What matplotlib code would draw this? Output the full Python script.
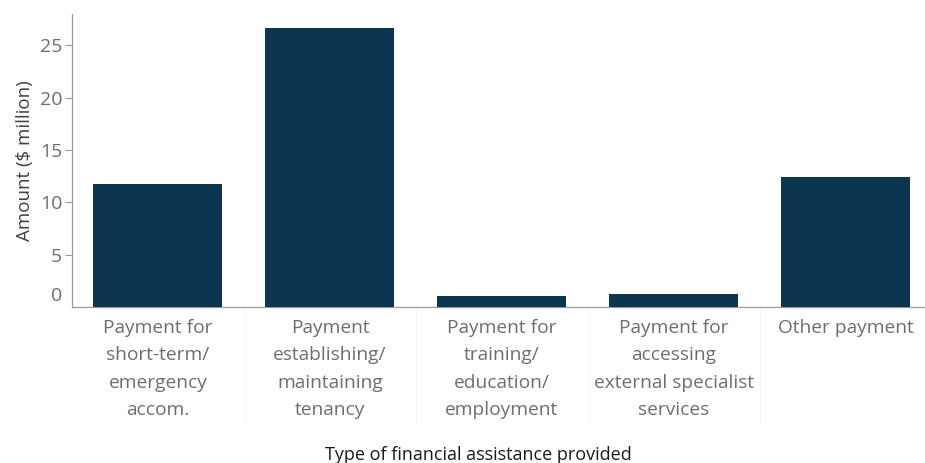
import matplotlib.pyplot as plt
import matplotlib.transforms as mtransforms

plt.rcParams['font.family'] = ['Open Sans', 'DejaVu Sans']

categories = [
    "Payment for\nshort-term/\nemergency\naccom.",
    "Payment\nestablishing/\nmaintaining\ntenancy",
    "Payment for\ntraining/\neducation/\nemployment",
    "Payment for\naccessing\nexternal specialist\nservices",
    "Other payment",
]
amounts = [11.8, 26.7, 1.05, 1.2, 12.4]
yticks = [0, 5, 10, 15, 20, 25]

bar_color = "#0c3550"
tick_grey = "#6e6e6e"
axis_grey = "#9a9a9a"

fig = plt.figure(figsize=(9.25, 4.63), dpi=100)
ax = fig.add_axes([72 / 925, 156 / 463, 853 / 925, 293 / 463])

x = list(range(len(categories)))
ax.bar(x, amounts, width=0.75, color=bar_color, zorder=3)

ax.set_xlim(-0.5, 4.46)
ax.set_ylim(0, 28)

ax.set_yticks(yticks)
ax.set_yticklabels([str(t) for t in yticks])
ax.set_xticks(x)
ax.set_xticklabels(categories, linespacing=1.68, va="top")

ax.tick_params(axis="y", colors=axis_grey, labelcolor=tick_grey, labelsize=14,
               length=5, width=0.8, pad=2)
ax.tick_params(axis="x", length=0, labelcolor=tick_grey, labelsize=13.8, pad=8.5)

# nudge the 0 label up like the original
lab0 = ax.get_yticklabels()[0]
lab0.set_transform(lab0.get_transform() + mtransforms.ScaledTranslation(0, 13 / 100, fig.dpi_scale_trans))
ax.get_yaxis().get_major_ticks()[0].tick1line.set_visible(False)

# faint category dividers
for b in [0.5, 1.5, 2.5, 3.5]:
    ax.axvline(b, ymin=-0.4, ymax=0, color="#f5f5f5", lw=1, clip_on=False, zorder=0)

for s in ["top", "right"]:
    ax.spines[s].set_visible(False)
ax.spines["left"].set_color(axis_grey)
ax.spines["bottom"].set_color(axis_grey)
ax.spines["left"].set_linewidth(0.9)
ax.spines["bottom"].set_linewidth(0.9)

ax.set_ylabel("Amount ($ million)", fontsize=13.5, color="#404040", labelpad=4)
fig.text(478 / 925, 1 - 455 / 463, "Type of financial assistance provided",
         ha="center", va="center", fontsize=13, color="#1a1a1a")

fig.savefig("out.png", dpi=100)
